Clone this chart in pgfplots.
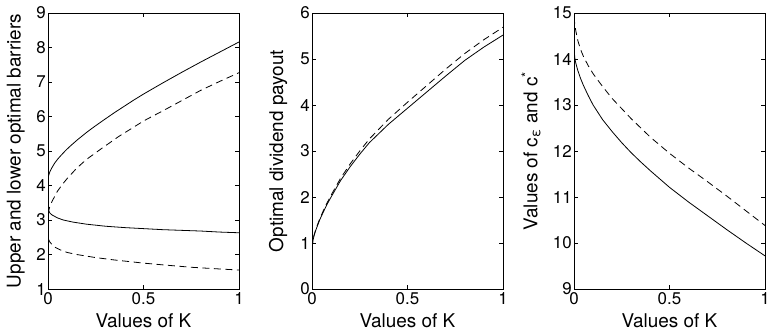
\documentclass[border=0pt]{standalone}
\usepackage{fontspec}
\setmainfont{TeX Gyre Heros}
\usepackage{pgfplots}
\pgfplotsset{compat=1.18}
\pgfplotsset{
  panel/.style={
    scale only axis, width=191bp, height=276bp,
    xmin=0, xmax=1, xtick={0,0.5,1}, xticklabels={0,0.5,1},
    tick align=inside, tick pos=both, major tick length=4bp,
    axis line style={line width=0.7bp},
    every tick/.style={black, line width=0.6bp},
    tick label style={font=\fontsize{17}{17}\selectfont},
    label style={font=\fontsize{19}{19}\selectfont},
    xlabel={Values of K},
    xlabel style={at={(axis description cs:0.5,-0.116)}, anchor=center},
    xticklabel style={inner sep=1bp, yshift=-2bp},
    yticklabel style={inner sep=1.5bp, xshift=-0.5bp},
  },
  sld/.style={black, solid, line width=0.8bp, mark=none},
  dsh/.style={black, line width=0.8bp, mark=none, dash pattern=on 7bp off 4.5bp},
}
\begin{document}
\begin{tikzpicture}
\path[use as bounding box] (0,0) rectangle (771bp,331bp);
% Panel 1
\begin{axis}[panel, at={(48bp,42bp)}, anchor=south west,
  ymin=1, ymax=9, ytick={1,2,3,4,5,6,7,8,9}, yticklabels={1,2,3,4,5,6,7,8,9},
  ylabel={Upper and lower optimal barriers},
  ylabel style={at={(axis description cs:-0.168,0.5)}, anchor=center}]
\addplot[sld] coordinates {(0,4.16) (0.001,4.23) (0.005,4.32) (0.01,4.40) (0.02,4.51) (0.035,4.65) (0.05,4.76) (0.066,4.86) (0.093,5.02) (0.12,5.16) (0.153,5.32) (0.2,5.53) (0.241,5.70) (0.3,5.93) (0.35,6.12) (0.4,6.30) (0.45,6.48) (0.5,6.65) (0.6,6.97) (0.7,7.28) (0.8,7.58) (0.9,7.87) (1.0,8.16)};
\addplot[sld] coordinates {(0,3.38) (0.003,3.28) (0.01,3.2) (0.02,3.15) (0.03,3.12) (0.05,3.06) (0.08,3.0) (0.13,2.94) (0.2,2.88) (0.3,2.82) (0.4,2.78) (0.5,2.75) (0.6,2.72) (0.7,2.7) (0.8,2.68) (0.9,2.65) (1.0,2.63)};
\addplot[dsh] coordinates {(0.002,3.18) (0.004,3.27) (0.01,3.4) (0.023,3.56) (0.049,3.83) (0.075,4.03) (0.1,4.2) (0.15,4.5) (0.2,4.75) (0.28,5.07) (0.37,5.42) (0.48,5.8) (0.517,5.92) (0.6,6.16) (0.7,6.46) (0.8,6.76) (0.9,7.02) (1.0,7.27)};
\addplot[dsh] coordinates {(0,2.47) (0.01,2.36) (0.03,2.23) (0.066,2.13) (0.1,2.06) (0.15,2.0) (0.25,1.91) (0.35,1.84) (0.5,1.75) (0.6,1.7) (0.75,1.63) (0.9,1.58) (1.0,1.55)};
\end{axis}
% Panel 2
\begin{axis}[panel, at={(312bp,42bp)}, anchor=south west,
  ymin=0, ymax=6, ytick={0,1,2,3,4,5,6}, yticklabels={0,1,2,3,4,5,6},
  ylabel={Optimal dividend payout},
  ylabel style={at={(axis description cs:-0.178,0.5)}, anchor=center}]
\addplot[sld] coordinates {(0,0.88) (0.005,1.05) (0.01,1.15) (0.02,1.28) (0.04,1.5) (0.06,1.68) (0.08,1.85) (0.1,2.0) (0.15,2.36) (0.2,2.66) (0.25,2.93) (0.3,3.18) (0.4,3.58) (0.5,3.93) (0.6,4.28) (0.7,4.63) (0.8,4.97) (0.9,5.26) (1.0,5.52)};
\addplot[dsh] coordinates {(0,0.88) (0.005,1.05) (0.01,1.16) (0.02,1.3) (0.04,1.52) (0.06,1.71) (0.08,1.88) (0.1,2.04) (0.15,2.41) (0.2,2.72) (0.25,3.0) (0.3,3.26) (0.4,3.69) (0.5,4.06) (0.6,4.42) (0.7,4.78) (0.8,5.12) (0.9,5.42) (1.0,5.69)};
\end{axis}
% Panel 3
\begin{axis}[panel, at={(574bp,42bp)}, anchor=south west,
  ymin=9, ymax=15, ytick={9,10,11,12,13,14,15}, yticklabels={9,10,11,12,13,14,15},
  ylabel={Values of c\textsubscript{ε} and c\textsuperscript{*}},
  ylabel style={at={(axis description cs:-0.225,0.5)}, anchor=center}]
\addplot[sld] coordinates {(0,14.2) (0.005,14.0) (0.01,13.9) (0.02,13.75) (0.035,13.57) (0.05,13.42) (0.075,13.2) (0.1,13.0) (0.15,12.68) (0.2,12.42) (0.25,12.18) (0.3,11.96) (0.35,11.76) (0.4,11.57) (0.5,11.21) (0.6,10.89) (0.7,10.59) (0.8,10.29) (0.9,10.0) (1.0,9.72)};
\addplot[dsh] coordinates {(0,14.92) (0.005,14.72) (0.01,14.6) (0.02,14.4) (0.035,14.2) (0.05,14.05) (0.075,13.85) (0.1,13.68) (0.15,13.4) (0.2,13.14) (0.25,12.92) (0.3,12.7) (0.35,12.5) (0.4,12.3) (0.5,11.95) (0.6,11.63) (0.7,11.33) (0.8,11.02) (0.9,10.7) (1.0,10.38)};
\end{axis}
\end{tikzpicture}
\end{document}
